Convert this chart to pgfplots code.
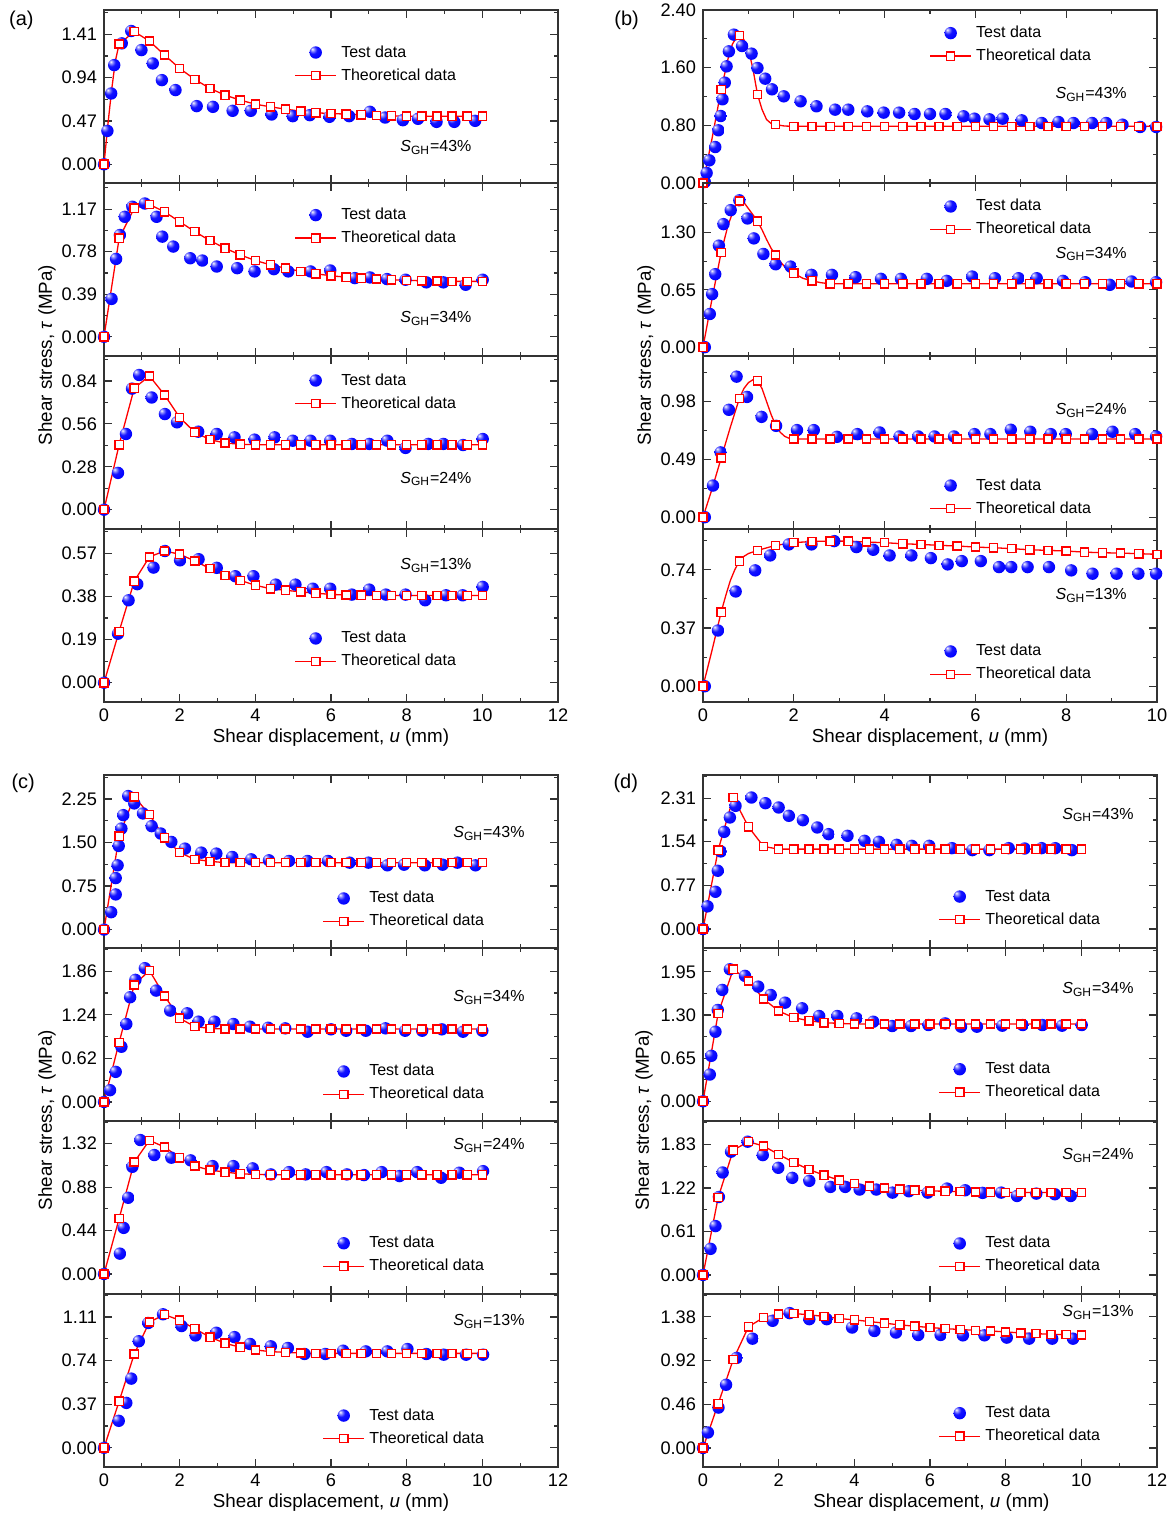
\documentclass[border=0pt]{standalone}
\usepackage{fontspec}
\setmainfont{Liberation Sans}
\usepackage{pgfplots}
\usepackage{pgfplotstable}
\pgfplotsset{compat=1.18}
\pgfdeclareradialshading{refball}{\pgfqpoint{-14bp}{14bp}}{color(0bp)=(white); color(5bp)=(blue!35!white); color(16bp)=(blue!92!white); color(34bp)=(blue); color(60bp)=(blue!72!black); color(80bp)=(blue!60!black)}
\pgfdeclareplotmark{refball}{\pgfpathcircle{\pgfpointorigin}{\pgfplotmarksize}\pgfshadepath{refball}{0}\pgfusepath{}}
\newcommand{\SGH}[1]{\textit{S}\textsubscript{GH}=#1\%}
\tikzset{ann/.style={font=\fontsize{8}{9}\selectfont}}
\pgfplotsset{
 sub/.style={scale only axis, width=227pt, height=86.5pt, anchor=north west,
   xmin=0, xmax=12, xtick={0,2,...,12}, minor x tick num=1, minor y tick num=1,
   tick align=inside, major tick length=4pt, minor tick length=2pt,
   axis line style={black!80, line width=0.8pt},
   major tick style={black!80, line width=0.6pt}, minor tick style={black!80, line width=0.6pt},
   tick label style={font=\fontsize{9.1}{10}\selectfont},
   yticklabel style={/pgf/number format/.cd, fixed, fixed zerofill, precision=2},
   /pgf/number format/assume math mode=true,
   legend cell align=left,
   legend style={draw=none, fill=none, inner sep=0pt, outer sep=0pt, anchor=north west,
     font=\fontsize{8}{9}\selectfont, nodes={inner sep=0pt, text height=6pt, text depth=1.5pt},
     row sep=4pt, column sep=2.2pt}},
 test/.style={only marks, mark=refball, mark size=3.1pt,
   legend image code/.code={\path (-0.06cm,0cm) (0.66cm,0cm); \draw[mark repeat=2,mark phase=2,##1] plot coordinates {(0cm,0cm)(0.3cm,0cm)(0.6cm,0cm)};}},
 theo/.style={red, line width=0.65pt, mark=square*, mark size=2.05pt, mark options={fill=white, solid, line width=0.7pt},
   legend image code/.code={\draw[mark repeat=2,mark phase=2,##1] plot coordinates {(-0.06cm,0cm)(0.3cm,0cm)(0.66cm,0cm)};}},
 theoline/.style={red, line width=0.65pt, no marks},
 theomk/.style={only marks, red, mark=square*, mark size=2.05pt, mark options={fill=white, line width=0.7pt}},
}
\pgfplotstableread{
x a1 a2 a3 a4
0 0 0 0 0
0.4 1.305 0.903 0.424 0.226
0.8 1.439 1.179 0.793 0.447
1.2 1.337 1.213 0.873 0.554
1.6 1.185 1.146 0.749 0.580
2.0 1.040 1.055 0.602 0.566
2.4 0.921 0.964 0.505 0.536
2.8 0.823 0.882 0.457 0.503
3.2 0.750 0.812 0.435 0.473
3.6 0.696 0.751 0.427 0.451
4.0 0.652 0.699 0.424 0.429
4.4 0.623 0.660 0.424 0.414
4.8 0.598 0.629 0.424 0.407
5.2 0.576 0.599 0.424 0.400
5.6 0.558 0.578 0.424 0.394
6.0 0.551 0.559 0.424 0.389
6.4 0.544 0.547 0.424 0.386
6.8 0.536 0.538 0.424 0.385
7.2 0.529 0.529 0.424 0.384
7.6 0.525 0.523 0.424 0.384
8.0 0.522 0.517 0.424 0.384
8.4 0.522 0.514 0.424 0.384
8.8 0.522 0.511 0.424 0.384
9.2 0.522 0.508 0.424 0.384
9.6 0.522 0.508 0.424 0.384
10.0 0.522 0.508 0.424 0.384
}\thA
\pgfplotstableread{
x b1 b2 b3 b4
0 0 0 0 0
0.4 1.295 1.074 0.501 0.471
0.8 2.048 1.657 1.005 0.795
1.2 1.230 1.428 1.155 0.863
1.6 0.809 1.044 0.780 0.895
2.0 0.786 0.838 0.662 0.912
2.4 0.786 0.751 0.662 0.920
2.8 0.786 0.718 0.662 0.922
3.2 0.786 0.718 0.662 0.922
3.6 0.786 0.718 0.662 0.916
4.0 0.786 0.718 0.662 0.912
4.4 0.786 0.718 0.662 0.905
4.8 0.786 0.718 0.662 0.901
5.2 0.786 0.718 0.662 0.895
5.6 0.786 0.718 0.662 0.891
6.0 0.786 0.718 0.662 0.884
6.4 0.786 0.718 0.662 0.880
6.8 0.786 0.718 0.662 0.874
7.2 0.786 0.718 0.662 0.867
7.6 0.786 0.718 0.662 0.863
8.0 0.786 0.718 0.662 0.859
8.4 0.786 0.718 0.662 0.852
8.8 0.786 0.718 0.662 0.848
9.2 0.786 0.718 0.662 0.846
9.6 0.786 0.718 0.662 0.842
10.0 0.786 0.718 0.662 0.838
}\thB
\pgfplotstableread{
x c1 c2 c3 c4
0 0 0 0 0
0.4 1.610 0.847 0.562 0.395
0.8 2.290 1.665 1.134 0.796
1.2 1.985 1.870 1.354 1.067
1.6 1.581 1.508 1.286 1.130
2.0 1.327 1.190 1.178 1.082
2.4 1.211 1.071 1.093 1.010
2.8 1.177 1.047 1.053 0.939
3.2 1.154 1.037 1.032 0.887
3.6 1.154 1.037 1.015 0.853
4.0 1.154 1.037 1.009 0.830
4.4 1.154 1.037 1.005 0.816
4.8 1.154 1.037 1.005 0.810
5.2 1.154 1.037 1.005 0.804
5.6 1.154 1.037 1.005 0.801
6.0 1.154 1.037 1.005 0.801
6.4 1.154 1.037 1.005 0.801
6.8 1.154 1.037 1.005 0.801
7.2 1.154 1.037 1.005 0.801
7.6 1.154 1.037 1.005 0.801
8.0 1.154 1.037 1.005 0.801
8.4 1.154 1.037 1.005 0.801
8.8 1.154 1.037 1.005 0.801
9.2 1.154 1.037 1.005 0.801
9.6 1.154 1.037 1.005 0.801
10.0 1.154 1.037 1.005 0.801
}\thC
\pgfplotstableread{
x d1 d2 d3 d4
0 0 0 0 0
0.4 1.393 1.325 1.084 0.464
0.8 2.322 1.990 1.750 0.931
1.2 1.805 1.814 1.868 1.274
1.6 1.458 1.542 1.807 1.373
2.0 1.411 1.360 1.689 1.408
2.4 1.411 1.260 1.577 1.415
2.8 1.411 1.214 1.478 1.401
3.2 1.411 1.184 1.398 1.384
3.6 1.411 1.174 1.328 1.362
4.0 1.411 1.164 1.281 1.348
4.4 1.411 1.164 1.243 1.330
4.8 1.411 1.164 1.220 1.313
5.2 1.411 1.164 1.201 1.295
5.6 1.411 1.164 1.187 1.281
6.0 1.411 1.164 1.178 1.267
6.4 1.411 1.164 1.173 1.256
6.8 1.411 1.164 1.168 1.246
7.2 1.411 1.164 1.164 1.238
7.6 1.411 1.164 1.159 1.231
8.0 1.411 1.164 1.157 1.221
8.4 1.411 1.164 1.157 1.210
8.8 1.411 1.164 1.157 1.203
9.2 1.411 1.164 1.157 1.196
9.6 1.411 1.164 1.157 1.192
10.0 1.411 1.164 1.157 1.189
}\thD
\begin{document}
\begin{tikzpicture}
\useasboundingbox (0,0) rectangle (587.5pt,757.5pt);
% ---------------- panel (a)
\begin{axis}[sub, at={(52pt,752.5pt)}, xticklabels={}, ymin=-0.203, ymax=1.674, ytick={-0.47,0,0.47,0.94,1.41,1.88}, legend style={at={(0.4198,0.7975)}}]
\addplot[test] coordinates {(0,0)(0.09,0.362)(0.19,0.768)(0.27,1.076)(0.47,1.312)(0.72,1.446)(0.99,1.239)(1.29,1.094)(1.53,0.913)(1.89,0.805)(2.45,0.631)(2.88,0.623)(3.40,0.580)(3.88,0.580)(4.43,0.540)(4.99,0.522)(5.44,0.533)(5.96,0.515)(6.48,0.522)(7.03,0.569)(7.43,0.507)(7.90,0.478)(8.30,0.493)(8.79,0.460)(9.26,0.460)(9.81,0.471)};
\addlegendentry{Test data}
\addplot[theoline, forget plot] coordinates {(0,0)(0.1,0.42)(0.2,0.80)(0.3,1.12)(0.4,1.305)(0.8,1.439)(1.2,1.337)(1.6,1.185)(2.0,1.040)(2.4,0.921)(2.8,0.823)(3.2,0.750)(3.6,0.696)(4.0,0.652)(4.4,0.623)(4.8,0.598)(5.2,0.576)(5.6,0.558)(6.0,0.551)(6.4,0.544)(6.8,0.536)(7.2,0.529)(7.6,0.525)(8.0,0.522)(10.0,0.522)};
\addplot[theomk, forget plot] table[x=x,y=a1] {\thA};
\addlegendimage{theo}\addlegendentry{Theoretical data}
\node[ann] at (axis description cs:0.731,0.204) {\SGH{43}};
\end{axis}
\begin{axis}[sub, at={(52pt,666pt)}, xticklabels={}, ymin=-0.176, ymax=1.41, ytick={-0.39,0,0.39,0.78,1.17,1.56}, legend style={at={(0.4198,0.8575)}}]
\addplot[test] coordinates {(0,0)(0.20,0.347)(0.32,0.714)(0.42,0.933)(0.55,1.100)(0.75,1.192)(1.08,1.222)(1.39,1.100)(1.54,0.918)(1.83,0.827)(2.28,0.720)(2.60,0.699)(2.98,0.644)(3.52,0.629)(3.98,0.599)(4.49,0.620)(4.87,0.599)(5.46,0.599)(5.98,0.608)(6.63,0.538)(7.03,0.544)(7.48,0.529)(7.97,0.523)(8.52,0.499)(8.97,0.499)(9.56,0.477)(10.01,0.523)};
\addlegendentry{Test data}
\addplot[theo, forget plot] table[x=x,y=a2] {\thA};
\addlegendimage{theo}\addlegendentry{Theoretical data}
\node[ann] at (axis description cs:0.731,0.218) {\SGH{34}};
\end{axis}
\begin{axis}[sub, at={(52pt,579.5pt)}, xticklabels={}, ymin=-0.126, ymax=1.003, ytick={-0.28,0,0.28,0.56,0.84,1.12}, legend style={at={(0.4198,0.9015)}}]
\addplot[test] coordinates {(0,0)(0.37,0.240)(0.58,0.494)(0.74,0.790)(0.93,0.879)(1.26,0.732)(1.61,0.624)(1.93,0.570)(2.49,0.509)(2.98,0.494)(3.45,0.472)(3.98,0.457)(4.51,0.472)(4.99,0.450)(5.46,0.450)(5.98,0.450)(6.55,0.429)(7.01,0.429)(7.49,0.450)(7.97,0.403)(8.57,0.429)(8.97,0.429)(9.49,0.422)(10.01,0.461)};
\addlegendentry{Test data}
\addplot[theo, forget plot] table[x=x,y=a3] {\thA};
\addlegendimage{theo}\addlegendentry{Theoretical data}
\node[ann] at (axis description cs:0.731,0.289) {\SGH{24}};
\end{axis}
\begin{axis}[sub, at={(52pt,493pt)}, ymin=-0.085, ymax=0.677, ytick={-0.19,0,0.19,0.38,0.57,0.76}, legend style={at={(0.4198,0.4105)}}]
\addplot[test] coordinates {(0,0)(0.37,0.216)(0.65,0.363)(0.88,0.434)(1.31,0.507)(1.61,0.580)(2.01,0.539)(2.50,0.544)(2.98,0.506)(3.47,0.469)(3.95,0.469)(4.54,0.432)(5.06,0.432)(5.52,0.414)(5.98,0.414)(6.55,0.388)(7.01,0.410)(7.45,0.388)(7.97,0.388)(8.49,0.363)(9.04,0.385)(9.48,0.385)(10.01,0.422)};
\addlegendentry{Test data}
\addplot[theo, forget plot] table[x=x,y=a4] {\thA};
\addlegendimage{theo}\addlegendentry{Theoretical data}
\node[ann] at (axis description cs:0.731,0.788) {\SGH{13}};
\end{axis}
% ---------------- panel (b)
\begin{axis}[sub, at={(351.5pt,752.5pt)}, xmax=10, xtick={0,2,...,10}, xticklabels={}, ymin=0, ymax=2.4, ytick={0,0.8,1.6,2.4}, legend style={at={(0.499,0.9095)}}]
\addplot[test] coordinates {(0.04,0.014)(0.08,0.139)(0.14,0.314)(0.27,0.499)(0.34,0.731)(0.39,0.929)(0.43,1.161)(0.48,1.392)(0.52,1.618)(0.57,1.826)(0.68,2.058)(0.86,1.900)(1.07,1.794)(1.20,1.595)(1.37,1.447)(1.52,1.299)(1.78,1.202)(2.15,1.133)(2.50,1.064)(2.91,1.017)(3.20,1.017)(3.62,0.994)(3.98,0.976)(4.32,0.976)(4.66,0.957)(5.00,0.957)(5.34,0.957)(5.74,0.925)(5.98,0.892)(6.31,0.883)(6.60,0.892)(7.02,0.869)(7.46,0.832)(7.83,0.846)(8.16,0.832)(8.57,0.832)(8.88,0.832)(9.24,0.809)(9.63,0.777)(9.98,0.777)};
\addlegendentry{Test data}
\addplot[theoline, forget plot] coordinates {(0,0)(0.2,0.62)(0.4,1.295)(0.55,1.72)(0.65,1.93)(0.75,2.03)(0.8,2.048)(0.88,2.01)(0.95,1.93)(1.05,1.72)(1.1,1.58)(1.2,1.23)(1.3,1.02)(1.4,0.88)(1.5,0.825)(1.6,0.809)(1.8,0.79)(2.0,0.786)(10,0.786)};
\addplot[theomk, forget plot] table[x=x,y=b1] {\thB};
\addlegendimage{theo}\addlegendentry{Theoretical data}
\node[ann] at (axis description cs:0.855,0.513) {\SGH{43}};
\end{axis}
\begin{axis}[sub, at={(351.5pt,666pt)}, xmax=10, xtick={0,2,...,10}, xticklabels={}, ymin=-0.10, ymax=1.86, ytick={-0.65,0,0.65,1.30,1.95}, legend style={at={(0.499,0.9075)}}]
\addplot[test] coordinates {(0.04,0)(0.15,0.376)(0.20,0.601)(0.27,0.827)(0.35,1.150)(0.45,1.394)(0.61,1.552)(0.80,1.664)(0.98,1.458)(1.12,1.232)(1.33,1.056)(1.60,0.939)(1.93,0.913)(2.39,0.819)(2.84,0.819)(3.36,0.793)(3.92,0.774)(4.36,0.774)(4.93,0.774)(5.37,0.751)(5.93,0.800)(6.43,0.781)(6.95,0.781)(7.35,0.781)(7.93,0.751)(8.42,0.736)(8.96,0.706)(9.44,0.744)(9.98,0.736)};
\addlegendentry{Test data}
\addplot[theoline, forget plot] coordinates {(0,0)(0.2,0.55)(0.4,1.074)(0.55,1.38)(0.7,1.59)(0.8,1.657)(0.9,1.64)(1.0,1.57)(1.1,1.50)(1.2,1.428)(1.3,1.33)(1.4,1.22)(1.5,1.12)(1.6,1.044)(1.7,0.97)(1.8,0.91)(1.9,0.87)(2.0,0.838)(2.2,0.78)(2.4,0.751)(2.6,0.73)(2.8,0.718)(10,0.718)};
\addplot[theomk, forget plot] table[x=x,y=b2] {\thB};
\addlegendimage{theo}\addlegendentry{Theoretical data}
\node[ann] at (axis description cs:0.855,0.590) {\SGH{34}};
\end{axis}
\begin{axis}[sub, at={(351.5pt,579.5pt)}, xmax=10, xtick={0,2,...,10}, xticklabels={}, ymin=-0.10, ymax=1.366, ytick={-0.49,0,0.49,0.98,1.47}, legend style={at={(0.499,0.2945)}}]
\addplot[test] coordinates {(0.04,0)(0.22,0.268)(0.39,0.549)(0.57,0.910)(0.74,1.191)(0.97,1.019)(1.29,0.850)(1.61,0.774)(2.07,0.738)(2.44,0.738)(2.95,0.681)(3.40,0.704)(3.89,0.718)(4.33,0.684)(4.74,0.684)(5.10,0.684)(5.53,0.684)(5.98,0.704)(6.33,0.704)(6.78,0.741)(7.21,0.724)(7.66,0.704)(7.99,0.704)(8.57,0.704)(9.02,0.724)(9.52,0.704)(9.98,0.684)};
\addlegendentry{Test data}
\addplot[theoline, forget plot] coordinates {(0,0)(0.2,0.24)(0.4,0.501)(0.6,0.76)(0.8,1.005)(0.9,1.09)(1.0,1.14)(1.1,1.165)(1.2,1.155)(1.3,1.09)(1.4,0.98)(1.5,0.87)(1.6,0.780)(1.7,0.72)(1.8,0.685)(1.9,0.668)(2.0,0.662)(10,0.662)};
\addplot[theomk, forget plot] table[x=x,y=b3] {\thB};
\addlegendimage{theo}\addlegendentry{Theoretical data}
\node[ann] at (axis description cs:0.855,0.684) {\SGH{24}};
\end{axis}
\begin{axis}[sub, at={(351.5pt,493pt)}, xmax=10, xtick={0,2,...,10}, ymin=-0.10, ymax=0.999, ytick={-0.37,0,0.37,0.74,1.11}, legend style={at={(0.499,0.3355)}}]
\addplot[test] coordinates {(0.04,0)(0.33,0.354)(0.72,0.602)(1.15,0.736)(1.48,0.831)(1.89,0.901)(2.39,0.901)(2.89,0.922)(3.38,0.884)(3.75,0.867)(4.11,0.831)(4.59,0.831)(5.02,0.814)(5.39,0.774)(5.70,0.795)(6.12,0.795)(6.52,0.757)(6.79,0.757)(7.15,0.757)(7.62,0.757)(8.11,0.736)(8.58,0.715)(9.11,0.715)(9.59,0.715)(9.98,0.715)};
\addlegendentry{Test data}
\addplot[theoline, forget plot] coordinates {(0,0)(0.2,0.23)(0.4,0.471)(0.5,0.575)(0.6,0.67)(0.7,0.74)(0.8,0.795)(0.9,0.825)(1.0,0.843)(1.2,0.863)(1.6,0.895)(2.0,0.912)(2.4,0.920)(2.8,0.922)(3.2,0.922)(3.6,0.916)(4.0,0.912)(4.4,0.905)(4.8,0.901)(5.2,0.895)(5.6,0.891)(6.0,0.884)(6.4,0.880)(6.8,0.874)(7.2,0.867)(7.6,0.863)(8.0,0.859)(8.4,0.852)(8.8,0.848)(9.2,0.846)(9.6,0.842)(10.0,0.838)};
\addplot[theomk, forget plot] table[x=x,y=b4] {\thB};
\addlegendimage{theo}\addlegendentry{Theoretical data}
\node[ann] at (axis description cs:0.855,0.614) {\SGH{13}};
\end{axis}
% ---------------- panel (c)
\begin{axis}[sub, at={(52pt,370pt)}, xticklabels={}, ymin=-0.317, ymax=2.665, ytick={-0.75,0,0.75,1.5,2.25,3.0}, legend style={at={(0.4815,0.3295)}}]
\addplot[test] coordinates {(0,0)(0.19,0.300)(0.31,0.606)(0.31,0.888)(0.36,1.108)(0.39,1.442)(0.46,1.742)(0.51,1.973)(0.64,2.302)(0.80,2.175)(1.03,2.002)(1.26,1.783)(1.50,1.656)(1.78,1.511)(2.14,1.396)(2.57,1.327)(2.97,1.310)(3.39,1.252)(3.89,1.211)(4.36,1.194)(4.89,1.183)(5.38,1.183)(5.92,1.183)(6.49,1.154)(6.99,1.154)(7.49,1.108)(7.93,1.119)(8.48,1.108)(8.95,1.119)(9.34,1.154)(9.82,1.108)};
\addlegendentry{Test data}
\addplot[theo, forget plot] table[x=x,y=c1] {\thC};
\addlegendimage{theo}\addlegendentry{Theoretical data}
\node[ann] at (axis description cs:0.848,0.663) {\SGH{43}};
\end{axis}
\begin{axis}[sub, at={(52pt,283.5pt)}, xticklabels={}, ymin=-0.271, ymax=2.19, ytick={-0.62,0,0.62,1.24,1.86,2.48}, legend style={at={(0.4815,0.3295)}}]
\addplot[test] coordinates {(0,0)(0.16,0.167)(0.31,0.428)(0.46,0.785)(0.59,1.109)(0.69,1.489)(0.83,1.737)(1.08,1.903)(1.38,1.584)(1.75,1.299)(2.20,1.261)(2.50,1.142)(2.92,1.142)(3.42,1.109)(3.86,1.071)(4.34,1.056)(4.79,1.047)(5.38,0.999)(6.00,1.033)(6.40,1.013)(6.92,1.013)(7.44,1.047)(7.96,1.013)(8.41,1.013)(8.93,1.033)(9.49,0.999)(10.0,1.013)};
\addlegendentry{Test data}
\addplot[theo, forget plot] table[x=x,y=c2] {\thC};
\addlegendimage{theo}\addlegendentry{Theoretical data}
\node[ann] at (axis description cs:0.848,0.715) {\SGH{34}};
\end{axis}
\begin{axis}[sub, at={(52pt,197pt)}, xticklabels={}, ymin=-0.203, ymax=1.55, ytick={-0.44,0,0.44,0.88,1.32,1.76}, legend style={at={(0.4815,0.3365)}}]
\addplot[test] coordinates {(0,0)(0.42,0.206)(0.52,0.467)(0.64,0.772)(0.75,1.086)(0.96,1.357)(1.33,1.205)(1.78,1.178)(2.29,1.151)(2.87,1.093)(3.42,1.093)(3.93,1.070)(4.41,1.009)(4.89,1.032)(5.33,1.009)(5.88,1.032)(6.42,1.009)(6.87,1.002)(7.34,1.032)(7.81,0.992)(8.28,1.032)(8.91,0.975)(9.39,1.026)(10.02,1.042)};
\addlegendentry{Test data}
\addplot[theo, forget plot] table[x=x,y=c3] {\thC};
\addlegendimage{theo}\addlegendentry{Theoretical data}
\node[ann] at (axis description cs:0.848,0.861) {\SGH{24}};
\end{axis}
\begin{axis}[sub, at={(52pt,110.5pt)}, ymin=-0.163, ymax=1.305, ytick={-0.37,0,0.37,0.74,1.11,1.48}, legend style={at={(0.4815,0.3405)}}]
\addplot[test] coordinates {(0,0)(0.39,0.229)(0.59,0.381)(0.72,0.587)(0.92,0.904)(1.17,1.059)(1.56,1.133)(2.05,1.033)(2.42,0.953)(2.97,0.976)(3.45,0.939)(3.86,0.881)(4.41,0.861)(4.86,0.847)(5.30,0.796)(5.85,0.796)(6.32,0.824)(6.92,0.818)(7.49,0.818)(8.02,0.838)(8.52,0.796)(8.98,0.790)(9.57,0.790)(10.02,0.790)};
\addlegendentry{Test data}
\addplot[theo, forget plot] table[x=x,y=c4] {\thC};
\addlegendimage{theo}\addlegendentry{Theoretical data}
\node[ann] at (axis description cs:0.848,0.842) {\SGH{13}};
\end{axis}
% ---------------- panel (d)
\begin{axis}[sub, at={(351.5pt,370pt)}, xticklabels={}, ymin=-0.335, ymax=2.72, ytick={-0.77,0,0.77,1.54,2.31,3.08}, legend style={at={(0.519,0.3405)}}]
\addplot[test] coordinates {(0,0)(0.12,0.400)(0.33,0.658)(0.39,1.029)(0.47,1.370)(0.56,1.716)(0.71,1.969)(0.86,2.175)(1.28,2.322)(1.65,2.222)(2.00,2.146)(2.27,1.999)(2.64,1.922)(3.02,1.793)(3.32,1.675)(3.82,1.646)(4.27,1.558)(4.65,1.540)(5.12,1.487)(5.52,1.469)(5.98,1.469)(6.58,1.428)(7.12,1.393)(7.57,1.393)(8.08,1.428)(8.50,1.422)(8.95,1.428)(9.31,1.428)(9.75,1.393)};
\addlegendentry{Test data}
\addplot[theo, forget plot] table[x=x,y=d1] {\thD};
\addlegendimage{theo}\addlegendentry{Theoretical data}
\node[ann] at (axis description cs:0.870,0.769) {\SGH{43}};
\end{axis}
\begin{axis}[sub, at={(351.5pt,283.5pt)}, xticklabels={}, ymin=-0.297, ymax=2.31, ytick={-0.65,0,0.65,1.30,1.95,2.60}, legend style={at={(0.519,0.3425)}}]
\addplot[test] coordinates {(0,0)(0.18,0.403)(0.22,0.685)(0.33,1.048)(0.39,1.376)(0.51,1.678)(0.71,1.990)(1.11,1.890)(1.46,1.728)(1.79,1.602)(2.17,1.486)(2.62,1.401)(3.07,1.285)(3.55,1.285)(4.06,1.250)(4.50,1.199)(5.00,1.134)(5.50,1.134)(5.96,1.149)(6.40,1.174)(6.82,1.124)(7.24,1.124)(7.91,1.139)(8.45,1.149)(8.97,1.149)(9.49,1.139)(10.01,1.149)};
\addlegendentry{Test data}
\addplot[theo, forget plot] table[x=x,y=d2] {\thD};
\addlegendimage{theo}\addlegendentry{Theoretical data}
\node[ann] at (axis description cs:0.870,0.761) {\SGH{34}};
\end{axis}
\begin{axis}[sub, at={(351.5pt,197pt)}, xticklabels={}, ymin=-0.267, ymax=2.158, ytick={-0.61,0,0.61,1.22,1.83,2.44}, legend style={at={(0.519,0.3355)}}]
\addplot[test] coordinates {(0,0)(0.20,0.366)(0.33,0.685)(0.42,1.093)(0.52,1.436)(0.74,1.727)(1.18,1.868)(1.58,1.680)(1.99,1.502)(2.36,1.361)(2.81,1.319)(3.37,1.234)(3.76,1.234)(4.14,1.197)(4.58,1.197)(5.01,1.154)(5.44,1.173)(5.94,1.154)(6.45,1.211)(6.93,1.187)(7.39,1.150)(7.88,1.154)(8.30,1.107)(8.81,1.140)(9.30,1.131)(9.72,1.107)};
\addlegendentry{Test data}
\addplot[theo, forget plot] table[x=x,y=d3] {\thD};
\addlegendimage{theo}\addlegendentry{Theoretical data}
\node[ann] at (axis description cs:0.870,0.799) {\SGH{24}};
\end{axis}
\begin{axis}[sub, at={(351.5pt,110.5pt)}, ymin=-0.20, ymax=1.62, ytick={-0.46,0,0.46,0.92,1.38,1.84}, legend style={at={(0.519,0.3545)}}]
\addplot[test] coordinates {(0,0)(0.13,0.163)(0.41,0.425)(0.61,0.665)(0.89,0.948)(1.31,1.150)(1.84,1.338)(2.29,1.419)(2.81,1.355)(3.27,1.355)(3.94,1.267)(4.53,1.231)(5.10,1.214)(5.69,1.189)(6.28,1.189)(6.87,1.185)(7.44,1.185)(8.03,1.161)(8.62,1.150)(9.23,1.150)(9.78,1.150)};
\addlegendentry{Test data}
\addplot[theo, forget plot] table[x=x,y=d4] {\thD};
\addlegendimage{theo}\addlegendentry{Theoretical data}
\node[ann] at (axis description cs:0.870,0.894) {\SGH{13}};
\end{axis}
% ---------------- labels
\tikzset{lab/.style={font=\fontsize{9.4}{10}\selectfont}, plab/.style={font=\fontsize{10}{11}\selectfont}}
\node[plab] at (10.7pt,747.5pt) {(a)};
\node[plab] at (313.3pt,747.5pt) {(b)};
\node[plab] at (11.6pt,365.8pt) {(c)};
\node[plab] at (312.9pt,365.8pt) {(d)};
\node[lab, rotate=90] at (23.5pt,580pt) {Shear stress, \textit{τ} (MPa)};
\node[lab, rotate=90] at (323pt,580pt) {Shear stress, \textit{τ} (MPa)};
\node[lab, rotate=90] at (23.5pt,197.5pt) {Shear stress, \textit{τ} (MPa)};
\node[lab, rotate=90] at (322pt,197.5pt) {Shear stress, \textit{τ} (MPa)};
\node[lab] at (165.5pt,388.5pt) {Shear displacement, \textit{u} (mm)};
\node[lab] at (465pt,388.5pt) {Shear displacement, \textit{u} (mm)};
\node[lab] at (165.5pt,6.4pt) {Shear displacement, \textit{u} (mm)};
\node[lab] at (465.7pt,6.4pt) {Shear displacement, \textit{u} (mm)};
\end{tikzpicture}
\end{document}
